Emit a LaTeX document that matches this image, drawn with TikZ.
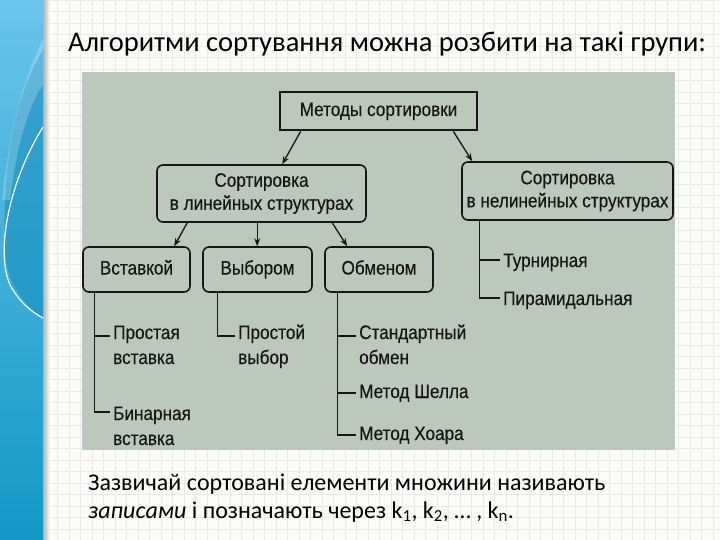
\documentclass[tikz,border=0pt]{standalone}
\usepackage{fontspec}
\setmainfont{Carlito}
\newfontfamily\diag{Liberation Sans}[FakeStretch=0.88,FakeBold=0.35]
\usetikzlibrary{arrows.meta,calc}
\definecolor{slidebg}{RGB}{251,251,247}
\definecolor{gridc}{RGB}{231,234,232}
\definecolor{photoc}{RGB}{188,200,187}
\definecolor{inkc}{RGB}{22,22,22}
\definecolor{bandtop}{RGB}{108,196,235}
\definecolor{bandbot}{RGB}{18,152,198}
\definecolor{banddark}{RGB}{20,140,190}
\tikzset{
  gridline/.style={draw=gridc, line width=0.4pt},
  photo/.style={fill=photoc, draw=none, inner sep=0pt},
  box/.style={draw=inkc, line width=1.6pt, rounded corners=6pt, inner sep=0pt,
    font=\diag\fontsize{19.5}{23}\selectfont, text=inkc, align=center},
  onebox/.style={box, text height=14pt, text depth=4pt},
  rootbox/.style={draw=inkc, line width=2.6pt, inner sep=0pt,
    font=\diag\fontsize{19.5}{23}\selectfont, text=inkc, text height=14pt, text depth=4pt},
  leaf/.style={inner sep=0pt, font=\diag\fontsize{19.5}{25}\selectfont, text=inkc},
  arr/.style={draw=inkc, line width=1.3pt, -{Stealth[length=8pt,width=6pt]}},
  tree/.style={draw=inkc, line width=1.3pt},
  slidetext/.style={inner sep=0pt, text=black},
}
\begin{document}
\begin{tikzpicture}[x=1pt,y=-1pt]
\useasboundingbox (0,0) rectangle (720,540);
% slide background and grid
\fill[slidebg] (0,0) rectangle (720,540);
\foreach \i in {0,...,63} { \draw[gridline] (\i*11.5,0) -- (\i*11.5,540); }
\foreach \j in {0,...,47} { \draw[gridline] (0,\j*11.5) -- (720,\j*11.5); }
% left decorative band
\shade[top color=bandtop, bottom color=bandbot] (0,0) rectangle (43,540);
\shade[left color=black!30, right color=slidebg] (43,0) rectangle (50,540);
\fill[banddark, opacity=0.55] (43,50) .. controls (15,95) and (0,170) .. (6,262)
  .. controls (12,292) and (30,310) .. (43,318) -- cycle;
\fill[white, opacity=0.22] (43,40) .. controls (22,80) and (8,140) .. (2,200)
  -- (10,200) .. controls (16,150) and (28,105) .. (43,85) -- cycle;
\draw[white, line width=1.2pt] (43,127) .. controls (10,180) and (-5,250) .. (10,285)
  .. controls (20,303) and (32,312) .. (43,318);
% title
\node[slidetext, anchor=base west, font=\fontsize{28.5}{32}\selectfont] (title) at (68,52)
  {Алгоритми сортування можна розбити на такі групи:};
% photo area
\node[photo, anchor=north west, minimum width=593pt, minimum height=378pt] (photo) at (82,72) {};
% boxes
\node[rootbox, minimum width=197pt, minimum height=38pt] (root) at (378.5,111) {Методы сортировки};
\node[box, minimum width=209pt, minimum height=57pt] (lin) at (261.5,193.5) {Сортировка\\в линейных структурах};
\node[box, minimum width=211pt, minimum height=58pt] (nonlin) at (567.5,191) {Сортировка\\в нелинейных структурах};
\node[onebox, minimum width=107pt, minimum height=45pt] (ins) at (136.5,269.5) {Вставкой};
\node[onebox, minimum width=109pt, minimum height=45pt] (sel) at (257.5,269.5) {Выбором};
\node[onebox, minimum width=108pt, minimum height=45pt] (exc) at (379,269.5) {Обменом};
% arrows
\draw[arr] ([xshift=22pt]root.south west) -- ([xshift=126pt]lin.north west);
\draw[arr] ([xshift=-25pt]root.south east) -- ([xshift=11pt]nonlin.north west);
\draw[arr] ([xshift=31pt]lin.south west) -- ([xshift=92pt]ins.north west);
\draw[arr] ([xshift=101pt]lin.south west) -- ([xshift=55pt]sel.north west);
\draw[arr] ([xshift=176pt]lin.south west) -- ([xshift=23pt]exc.north west);
% leaves
\node[leaf, anchor=base west] (p1) at (113,339) {\begin{tabular}[t]{@{}l@{}}Простая\\вставка\end{tabular}};
\node[leaf, anchor=base west] (p2) at (113,420) {\begin{tabular}[t]{@{}l@{}}Бинарная\\вставка\end{tabular}};
\node[leaf, anchor=base west] (s1) at (238,339) {\begin{tabular}[t]{@{}l@{}}Простой\\выбор\end{tabular}};
\node[leaf, anchor=base west] (e1) at (359,339) {\begin{tabular}[t]{@{}l@{}}Стандартный\\обмен\end{tabular}};
\node[leaf, anchor=base west] (e2) at (359,398) {Метод Шелла};
\node[leaf, anchor=base west] (e3) at (359,440) {Метод Хоара};
\node[leaf, anchor=base west] (n1) at (503,267) {Турнирная};
\node[leaf, anchor=base west] (n2) at (503,305) {Пирамидальная};
% tree lines
\draw[tree] ([xshift=12pt]ins.south west) |- ($(p1.base west)+(-3,-3)$);
\draw[tree] ([xshift=12pt]ins.south west) |- ($(p2.base west)+(-3,-8)$);
\draw[tree] ([xshift=15pt]sel.south west) |- ($(s1.base west)+(-3,-3)$);
\draw[tree] ([xshift=13pt]exc.south west) |- ($(e1.base west)+(-3,-3)$);
\draw[tree] ([xshift=13pt]exc.south west) |- ($(e2.base west)+(-3,-5)$);
\draw[tree] ([xshift=13pt]exc.south west) |- ($(e3.base west)+(-3,-5)$);
\draw[tree] ([xshift=18pt]nonlin.south west) |- ($(n1.base west)+(-3,-7)$);
\draw[tree] ([xshift=18pt]nonlin.south west) |- ($(n2.base west)+(-3,-7)$);
% bottom text
\node[slidetext, anchor=base west, font=\fontsize{24}{28}\selectfont] (b1) at (88,490)
  {Зазвичай сортовані елементи множини називають};
\node[slidetext, anchor=base west, font=\fontsize{24}{28}\selectfont] (b2) at (88,518)
  {\textit{записами} і позначають через k\textsubscript{1}, k\textsubscript{2}, … , k\textsubscript{n}.};
\end{tikzpicture}
\end{document}
